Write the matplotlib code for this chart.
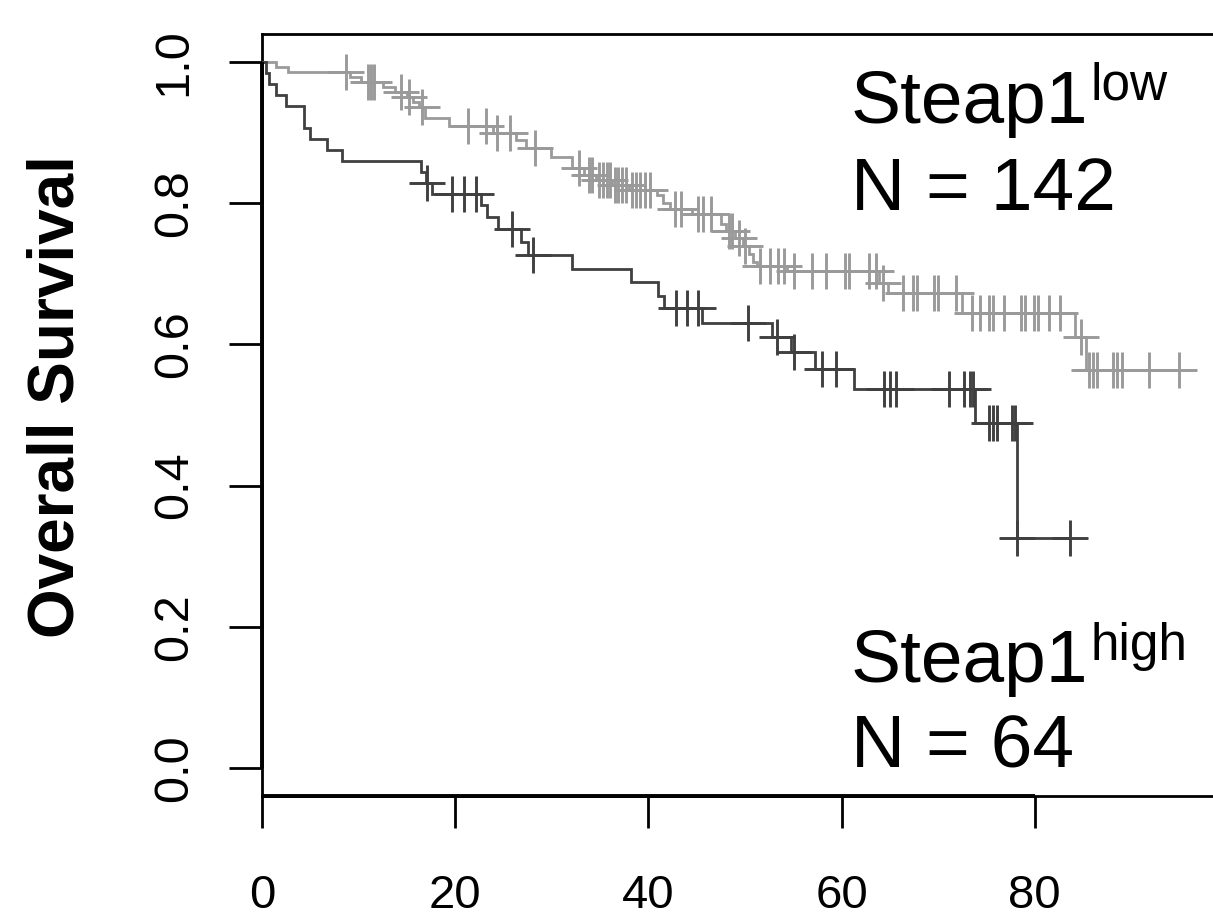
import numpy as np
import matplotlib
matplotlib.use("Agg")
import matplotlib.pyplot as plt

plt.rcParams['font.family'] = ['Liberation Sans', 'DejaVu Sans']

# ---------------- data ----------------
# Steap1 high group (N = 64): step times and survival after each step
high_times = [0, 0.4, 0.7, 1.5, 2.5, 4.3, 5.0, 6.7, 8.3, 16.5, 17.0, 17.6, 22.7, 23.3,
              24.4, 26.8, 27.5, 32.1, 38.2, 41.0, 41.6, 45.5, 52.8, 54.8, 57.2, 61.3,
              73.8, 78.2]
high_surv = [1.0, 0.984, 0.969, 0.953, 0.938, 0.906, 0.891, 0.875, 0.859, 0.844, 0.828,
             0.813, 0.797, 0.781, 0.764, 0.745, 0.726, 0.707, 0.688, 0.669, 0.651, 0.630,
             0.610, 0.589, 0.565, 0.537, 0.489, 0.326]
high_end = 83.6
high_censor = [17.1, 19.7, 20.9, 22.2, 25.9, 28.1, 42.9, 44.0, 45.1, 50.3, 53.3, 55.1,
               58.0, 59.4, 64.4, 65.0, 65.6, 71.1, 72.7, 73.3, 73.6, 75.3, 75.7, 76.1,
               77.6, 78.0, 78.2, 83.6]

# Steap1 low group (N = 142)
low_times = [0, 1.5, 2.7, 9.1, 10.3, 12.5, 13.8, 15.0, 15.6, 16.3, 16.9, 19.4, 23.9,
             26.3, 27.3, 29.9, 32.1, 33.3, 34.6, 36.2, 38.0, 40.9, 41.5, 42.2, 44.5,
             47.5, 48.0, 49.0, 49.8, 50.4, 50.8, 51.2, 54.3, 63.9, 64.8, 72.5, 84.2, 85.3]
low_surv = [1.0, 0.993, 0.986, 0.979, 0.972, 0.965, 0.958, 0.951, 0.943, 0.936, 0.921,
            0.909, 0.899, 0.890, 0.878, 0.866, 0.850, 0.840, 0.833, 0.826, 0.819, 0.812,
            0.800, 0.791, 0.784, 0.770, 0.760, 0.750, 0.740, 0.728, 0.716, 0.711, 0.704,
            0.687, 0.673, 0.645, 0.610, 0.563]
low_end = 94.9
low_censor = [8.7, 11.0, 11.3, 11.6, 14.4, 15.2, 16.6, 21.3, 23.2, 24.3, 25.7, 28.3,
              32.8, 33.8, 34.2, 34.9, 35.3, 35.7, 36.0, 36.5, 36.9, 37.3, 37.7, 38.3,
              38.7, 39.1, 39.6, 40.2, 42.8, 43.4, 45.1, 45.7, 46.5, 48.3, 48.7, 49.4,
              50.0, 51.6, 52.6, 53.4, 54.0, 55.1, 56.9, 58.4, 60.4, 60.8, 62.8, 63.6,
              64.3, 66.4, 67.4, 67.8, 69.6, 70.0, 71.8, 73.5, 74.3, 75.3, 75.7, 76.8,
              78.6, 79.0, 79.9, 80.3, 81.5, 82.6, 84.8, 85.6, 86.0, 86.4, 88.1, 88.5,
              89.0, 91.8, 94.9]

x_ticks = [0, 20, 40, 60, 80]
y_ticks = [0.0, 0.2, 0.4, 0.6, 0.8, 1.0]
y_tick_labels = ["0.0", "0.2", "0.4", "0.6", "0.8", "1.0"]
y_label = "Overall Survival"

# ---------------- figure ----------------
W, H = 1213, 919
fig = plt.figure(figsize=(W / 100, H / 100), dpi=100)
ax = fig.add_axes([262 / W, (H - 796.2) / H, 966 / W, 762.5 / H])
ax.set_xlim(0, 100)
ax.set_ylim(-0.04, 1.04)

dark = '#404040'
light = '#9a9a9a'


def draw_group(times, surv, end, censor, color):
    t = np.asarray(times, float)
    s = np.asarray(surv, float)
    ax.step(np.r_[t, end], np.r_[s, s[-1]], where='post', color=color, lw=2.0,
            solid_joinstyle='miter', zorder=3)
    c = np.asarray(censor, float)
    idx = np.searchsorted(t, c, side='right') - 1
    ax.plot(c, s[idx], linestyle='none', marker='+', markersize=26,
            markeredgewidth=2.1, color=color, zorder=4)


draw_group(low_times, low_surv, low_end, low_censor, light)
draw_group(high_times, high_surv, high_end, high_censor, dark)

# spines (box) and R-style axis lines
for side in ['left', 'top', 'bottom', 'right']:
    ax.spines[side].set_linewidth(2.0)
    ax.spines[side].set_color('black')
ax.plot([0, 80], [-0.04, -0.04], color='black', lw=2.8, clip_on=False,
        solid_capstyle='butt', zorder=5)
ax.plot([0, 0], [0, 1], color='black', lw=2.8, clip_on=False,
        solid_capstyle='butt', zorder=5)

ax.set_xticks(x_ticks)
ax.set_xticklabels([str(v) for v in x_ticks])
ax.set_yticks(y_ticks)
ax.set_yticklabels(y_tick_labels, rotation=90, va='center')
ax.tick_params(axis='x', direction='out', length=23, width=2.0, pad=33,
               labelsize=34, colors='black')
ax.tick_params(axis='y', direction='out', length=24, width=2.0, pad=23,
               labelsize=35, colors='black')

# y label
fig.text(27 / W, 1 - 397 / H, y_label, rotation=90, ha='left', va='center',
         fontsize=46, fontweight='bold')


def px(x, y):
    return x / W, 1 - y / H


# group annotations
fig.text(*px(851, 123), "Steap1", fontsize=54, ha='left', va='baseline')
fig.text(*px(1090, 100), "low", fontsize=37, ha='left', va='baseline')
fig.text(*px(851, 210), "N = 142", fontsize=54, ha='left', va='baseline')

fig.text(*px(851, 682), "Steap1", fontsize=54, ha='left', va='baseline')
fig.text(*px(1090, 660), "high", fontsize=37, ha='left', va='baseline')
fig.text(*px(851, 768), "N = 64", fontsize=54, ha='left', va='baseline')

fig.savefig("out.png", dpi=100)
